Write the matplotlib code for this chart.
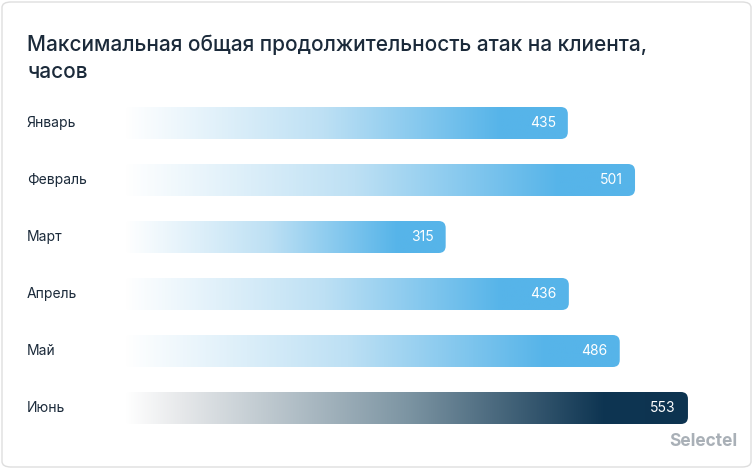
import numpy as np
import matplotlib
matplotlib.use("Agg")
import matplotlib.pyplot as plt
from matplotlib.patches import FancyBboxPatch
from matplotlib.colors import LinearSegmentedColormap

months = ["Январь", "Февраль", "Март", "Апрель", "Май", "Июнь"]
values = [435, 501, 315, 436, 486, 553]
highlight = [False, False, False, False, False, True]

W, H = 753, 469
fig = plt.figure(figsize=(W/100, H/100), dpi=100)
fig.patch.set_facecolor("white")
card = FancyBboxPatch((2/W, 2/H), 1-4/W, 1-4/H, boxstyle="round,pad=0,rounding_size=0.012",
                      transform=fig.transFigure, facecolor="white", edgecolor="#dedede", lw=1, zorder=-5)
fig.patches.append(card)

fig.text(27/W, 1-45/H, "Максимальная общая продолжительность атак на клиента,",
         fontsize=15, color="#1b2a3a", va="center", family="Inter", fontweight="medium")
fig.text(27/W, 1-72/H, "часов", fontsize=15, color="#1b2a3a", va="center", family="Inter", fontweight="medium")
fig.text(737/W, 1-441/H, "Selectel", fontsize=12.5, color="#a9b0b7", ha="right", va="center",
         family="Inter", fontweight="bold")

left_px, right_px = 125, 740
top_px, bot_px = 94.5, 436.5
ax = fig.add_axes([left_px/W, 1-bot_px/H, (right_px-left_px)/W, (bot_px-top_px)/H])
ax.patch.set_alpha(0)
pxu = 1.018
xmax = (right_px-left_px)/pxu
ax.set_xlim(0, xmax)
ax.set_ylim(len(months)-0.5, -0.5)
ax.axis("off")

blue = LinearSegmentedColormap.from_list("b", [(0, "#ffffff"), (0.45, "#bde0f4"), (0.85, "#56b4e9"), (1, "#56b4e9")])
dark = LinearSegmentedColormap.from_list("d", [(0, "#ffffff"), (0.1, "#e6e8ea"), (0.5, "#7d95a3"), (0.85, "#0e3552"), (1, "#0d3350")])

bh = 32/57
yu_per_px = 1/57
for i, (m, v, hl) in enumerate(zip(months, values, highlight)):
    cmap = dark if hl else blue
    grad = np.linspace(0, 1, 256).reshape(1, -1)
    im = ax.imshow(grad, cmap=cmap, extent=(0, v, i+bh/2, i-bh/2), aspect="auto", zorder=2)
    r = 7/pxu
    clip = FancyBboxPatch((0, i-bh/2), v, bh, boxstyle=f"round,pad=0,rounding_size={r}",
                          mutation_aspect=yu_per_px*pxu, transform=ax.transData,
                          facecolor="none", edgecolor="none")
    ax.add_patch(clip)
    im.set_clip_path(clip)
    ax.text(v-12/pxu, i, str(v), color="white", ha="right", va="center", fontsize=10, family="Inter", zorder=3)
    fig.text(27/W, 1-(top_px+57*i+28.5)/H, m, fontsize=10, color="#1b2a3a", va="center", family="Inter")

fig.savefig("out.png", dpi=100)
